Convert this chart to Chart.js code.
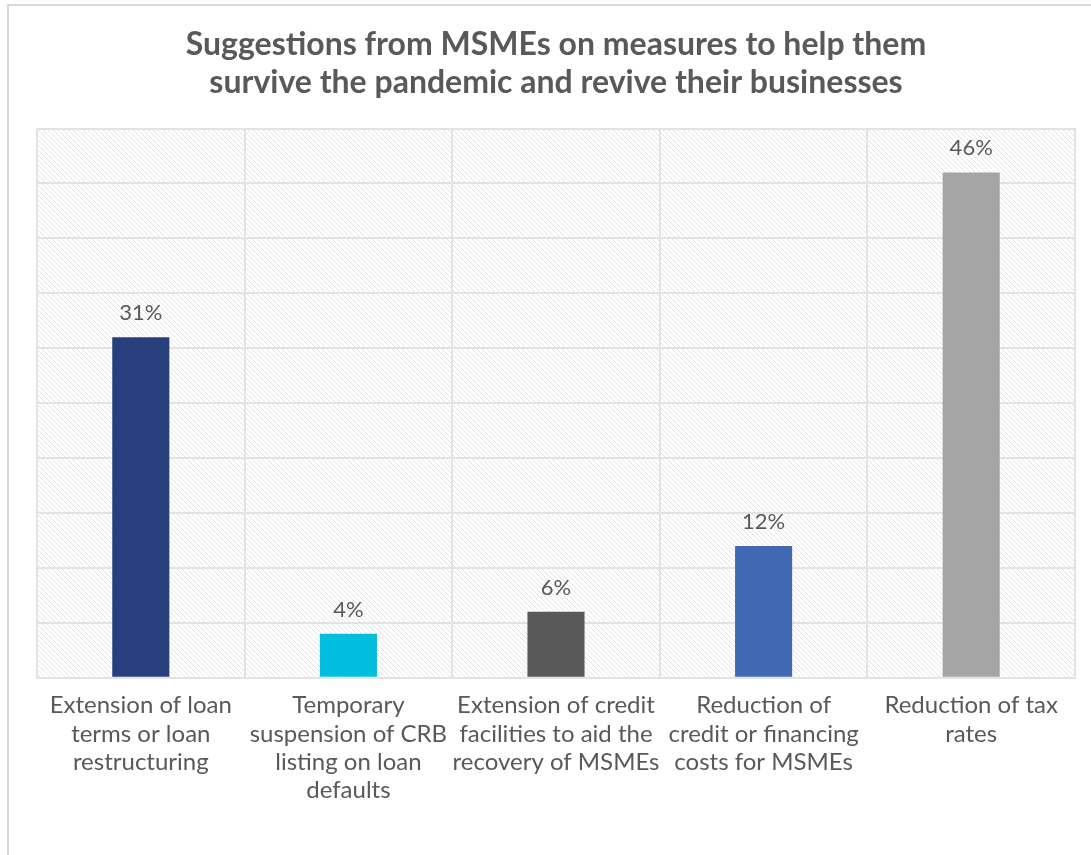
<!DOCTYPE html>
<html>
<head>
<meta charset="utf-8">
<title>MSME suggestions</title>
<script src="https://cdn.jsdelivr.net/npm/chart.js@4.4.1/dist/chart.umd.min.js"></script>
<style>
    html, body {
        margin: 0;
        padding: 0;
        background: #ffffff;
        overflow: hidden;
    }
    .frame {
        position: absolute;
        left: 7px;
        top: 4px;
        width: 1100px;
        height: 860px;
        border-top: 2px solid #d9d9d9;
        border-left: 2px solid #d9d9d9;
    }
</style>
</head>
<body>
<div class="frame">
    <canvas id="measuresChart" width="1095" height="850"></canvas>
</div>
<script>
// Share of MSMEs proposing each measure (%)
const measures = [
    ['Extension of loan', 'terms or loan', 'restructuring'],
    ['Temporary', 'suspension of CRB', 'listing on loan', 'defaults'],
    ['Extension of credit', 'facilities to aid the', 'recovery of MSMEs'],
    ['Reduction of', 'credit or financing', 'costs for MSMEs'],
    ['Reduction of tax', 'rates']
];
const shares = [31, 4, 6, 12, 46];
const barColors = ['#283f7d', '#00bfde', '#595959', '#4169b3', '#a5a5a5'];

const textColor = '#595959';
const gridColor = '#e3e3e3';

// diagonal hatch used behind the bars
function makeHatch() {
    const tile = document.createElement('canvas');
    tile.width = 5;
    tile.height = 5;
    const t = tile.getContext('2d');
    t.fillStyle = '#ffffff';
    t.fillRect(0, 0, 5, 5);
    t.fillStyle = '#e3e3e3';
    for (let i = 0; i < 5; i++) {
        t.fillRect(i, i, 1, 1);
    }
    return t.createPattern(tile, 'repeat');
}

const hatchBackground = {
    id: 'hatchBackground',
    beforeDraw(chart) {
        const area = chart.chartArea;
        const ctx = chart.ctx;
        ctx.save();
        ctx.fillStyle = makeHatch();
        ctx.fillRect(area.left, area.top, area.right - area.left, area.bottom - area.top);
        ctx.restore();
    }
};

// percentage written above each bar
const valueLabels = {
    id: 'valueLabels',
    afterDatasetsDraw(chart) {
        const ctx = chart.ctx;
        const meta = chart.getDatasetMeta(0);
        ctx.save();
        ctx.font = '22px Lato';
        ctx.fillStyle = textColor;
        ctx.textAlign = 'center';
        ctx.textBaseline = 'alphabetic';
        meta.data.forEach(function(bar, i) {
            ctx.fillText(shares[i] + '%', bar.x, bar.y - 17);
        });
        ctx.restore();
    }
};

function createChart(ctx) {
    return new Chart(ctx, {
        type: 'bar',
        data: {
            labels: measures,
            datasets: [
                {
                    data: shares,
                    backgroundColor: barColors,
                    barPercentage: 0.275,
                    categoryPercentage: 1
                }
            ]
        },
        options: {
            responsive: false,
            animation: false,
            layout: {
                padding: { left: 28, right: 29, top: 20, bottom: 38 }
            },
            plugins: {
                legend: { display: false },
                tooltip: { enabled: false },
                title: {
                    display: true,
                    text: [
                        'Suggestions from MSMEs on measures to help them',
                        'survive the pandemic and revive their businesses'
                    ],
                    color: textColor,
                    font: { family: 'Lato', size: 32, weight: 'bold', lineHeight: 1.18 },
                    padding: { top: 0, bottom: 27 }
                }
            },
            scales: {
                x: {
                    grid: {
                        color: gridColor,
                        lineWidth: 2,
                        offset: true,
                        drawTicks: false
                    },
                    border: { color: gridColor, width: 2 },
                    ticks: {
                        color: textColor,
                        font: { family: 'Lato', size: 24, lineHeight: 1.17 },
                        padding: 14,
                        maxRotation: 0,
                        autoSkip: false
                    }
                },
                y: {
                    min: 0,
                    max: 50,
                    grid: {
                        color: gridColor,
                        lineWidth: 2,
                        drawTicks: false
                    },
                    border: { color: gridColor, width: 2 },
                    ticks: {
                        display: false,
                        stepSize: 5
                    }
                }
            }
        },
        plugins: [hatchBackground, valueLabels]
    });
}

document.addEventListener('DOMContentLoaded', function() {
    const ctx = document.getElementById('measuresChart').getContext('2d');
    createChart(ctx);
});
</script>
</body>
</html>
